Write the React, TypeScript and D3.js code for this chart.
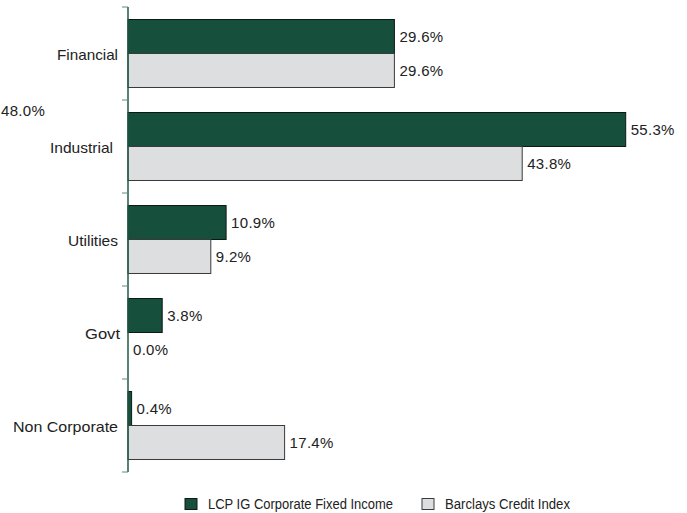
import React from "react";
import * as d3 from "d3";

const categories = ["Financial", "Industrial", "Utilities", "Govt", "Non Corporate"];
const seriesNames = ["LCP IG Corporate Fixed Income", "Barclays Credit Index"];
const lcpValues = [29.6, 55.3, 10.9, 3.8, 0.4];
const barclaysValues = [29.6, 43.8, 9.2, 0.0, 17.4];
const strayLabel = "48.0%";

// label styling (rendered widths and right edges as in the reference)
const labelEnds = [118, 113, 118, 120, 118];
const labelWidths = [61, 63, 50, 35, 105];

const W = 687;
const H = 513;
const FONT = "'Liberation Sans', Arial, Helvetica, sans-serif";
const colors = ["#164f3b", "#dcdee0"];
const strokes = ["#0d1a14", "#3a3a3a"];

export default function App() {
  const x = d3.scaleLinear().domain([0, 60]).range([128, 668]);
  const y = d3.scaleBand<string>().domain(categories).range([7, 472]).paddingInner(0).paddingOuter(0);
  const y1 = d3.scaleBand<string>().domain(seriesNames).range([0, y.bandwidth()]).paddingInner(0).paddingOuter(0.368);
  const values = [lcpValues, barclaysValues];
  const tickYs = [...categories.map((c) => y(c) as number), 472];

  return (
    <svg width={W} height={H} style={{ position: "absolute", left: 0, top: 0, background: "#fff" }} fontFamily={FONT}>
      {categories.map((c, i) => (
        <g key={c}>
          {seriesNames.map((s, si) => {
            const v = values[si][i];
            const by = (y(c) as number) + (y1(s) as number);
            return (
              <g key={s}>
                {v > 0 && (
                  <rect x={x(0)} y={by} width={x(v) - x(0)} height={y1.bandwidth()} fill={colors[si]} stroke={strokes[si]} strokeWidth={1} />
                )}
                <text x={x(v) + 5} y={by + y1.bandwidth() / 2} dy="0.35em" fontSize={15} fill="#222" letterSpacing={0.3}>
                  {v.toFixed(1) + "%"}
                </text>
              </g>
            );
          })}
          <text
            x={labelEnds[i] - labelWidths[i]}
            y={(y(c) as number) + y.bandwidth() / 2 + 1}
            dy="0.35em"
            fontSize={15}
            fill="#222"
            textLength={labelWidths[i]}
            lengthAdjust="spacingAndGlyphs"
          >
            {c}
          </text>
        </g>
      ))}
      <line x1={x(0)} x2={x(0)} y1={7} y2={472} stroke="#1f5a46" strokeWidth={1.5} />
      {tickYs.map((t, i) => (
        <line key={i} x1={122} x2={x(0)} y1={t} y2={t} stroke="#5f8a7a" strokeWidth={1} />
      ))}
      <text x={1} y={111} dy="0.35em" fontSize={15} fill="#222" letterSpacing={0.3}>{strayLabel}</text>
      {seriesNames.map((s, si) => {
        const lx = [185, 422][si];
        const tw = [185, 125][si];
        return (
          <g key={s}>
            <rect x={lx} y={498.5} width={12} height={11} fill={colors[si]} stroke={strokes[si]} strokeWidth={1} />
            <text x={lx + 23} y={509} fontSize={14} fill="#222" textLength={tw} lengthAdjust="spacingAndGlyphs">{s}</text>
          </g>
        );
      })}
    </svg>
  );
}
